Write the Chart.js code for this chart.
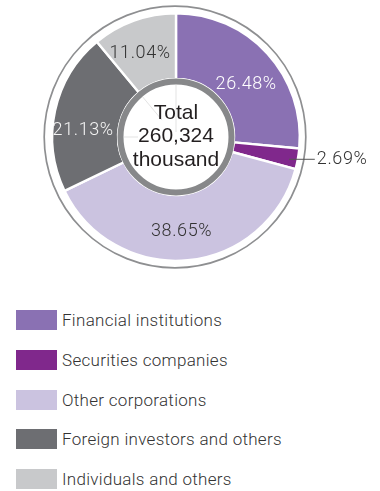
<!DOCTYPE html>
<html>
<head>
<meta charset="utf-8">
<script src="https://cdn.jsdelivr.net/npm/chart.js@4"></script>
<style>
  html, body { margin: 0; padding: 0; background: #fff; }
  #wrap { position: relative; width: 380px; height: 491px; overflow: hidden; }
  #pie { position: absolute; left: 0; top: 0; }
  #legend { position: absolute; left: 16px; top: 310px; margin: 0; padding: 0; list-style: none; }
  #legend li { display: flex; align-items: center; height: 20px; margin-bottom: 19.75px;
    font: 300 17px Roboto, "Liberation Sans", sans-serif; letter-spacing: 0.3px;
    color: #333333; white-space: nowrap; }
  #legend .sw { width: 41px; height: 20px; margin-right: 5px; flex: none; }
</style>
</head>
<body>
<div id="wrap">
  <canvas id="pie" width="380" height="280"></canvas>
  <ul id="legend"></ul>
</div>
<script>
// Shareholder composition
const categories = [
  'Financial institutions',
  'Securities companies',
  'Other corporations',
  'Foreign investors and others',
  'Individuals and others'
];
const shares = [26.48, 2.69, 38.65, 21.13, 11.04];
const totalLines = ['Total', '260,324', 'thousand'];

// Appearance
const sliceColors = ['#8a71b3', '#80288c', '#cbc3e0', '#6d6e72', '#c8c9cb'];
const labelColors = ['#ffffff', '#333333', '#333333', '#f4f4f4', '#333333'];
const labelNudge = [[3, 9], [0, 0], [-3, 4], [-4, 13], [-5, 2]];
const labelFont = '300 18px Roboto, "Liberation Sans", sans-serif';
const centerFont = '400 21px "Liberation Sans", Arial, sans-serif';

const decor = {
  id: 'decor',
  afterDatasetsDraw(chart) {
    const meta = chart.getDatasetMeta(0);
    const ctx = chart.ctx;
    const first = meta.data[0].getProps(['x', 'y', 'outerRadius', 'innerRadius'], true);
    const cx = first.x, cy = first.y, R = first.outerRadius, r0 = first.innerRadius;
    ctx.save();

    // thin outer rim
    ctx.beginPath();
    ctx.arc(cx - 1, cy, R + 7, 0, Math.PI * 2);
    ctx.strokeStyle = '#8e8f91';
    ctx.lineWidth = 1.7;
    ctx.stroke();

    // white hub with grey ring
    ctx.beginPath();
    ctx.arc(cx, cy, r0 + 1, 0, Math.PI * 2);
    ctx.fillStyle = '#ffffff';
    ctx.fill();
    ctx.beginPath();
    ctx.arc(cx, cy, r0 - 2.5, 0, Math.PI * 2);
    ctx.strokeStyle = '#87888a';
    ctx.lineWidth = 6;
    ctx.stroke();

    // faint guide lines inside the hub, continuing the upper-left slice edges
    ctx.strokeStyle = '#dcdcdc';
    ctx.lineWidth = 0.8;
    const guides = [
      [meta.data[4].endAngle, r0 - 6, 5],
      [meta.data[4].startAngle, r0 - 6, 22],
      [Math.PI, r0 - 6, 38]
    ];
    guides.forEach(([a, ra, rb]) => {
      ctx.beginPath();
      ctx.moveTo(cx + ra * Math.cos(a), cy + ra * Math.sin(a));
      ctx.lineTo(cx + rb * Math.cos(a), cy + rb * Math.sin(a));
      ctx.stroke();
    });

    // centre text
    ctx.fillStyle = '#231f20';
    ctx.font = centerFont;
    ctx.textAlign = 'center';
    ctx.textBaseline = 'middle';
    totalLines.forEach((t, i) => ctx.fillText(t, cx, cy - 24 + i * 23.5));

    // percentage labels
    ctx.font = labelFont;
    if ('letterSpacing' in ctx) ctx.letterSpacing = '0.6px';
    meta.data.forEach((arc, i) => {
      const p = arc.getProps(['startAngle', 'endAngle'], true);
      const mid = (p.startAngle + p.endAngle) / 2;
      const text = shares[i].toFixed(2) + '%';
      const [nx, ny] = labelNudge[i];
      ctx.fillStyle = labelColors[i];
      if (shares[i] < 5) {
        const rs = R - 9;
        const sx = cx + rs * Math.cos(mid), sy = cy + rs * Math.sin(mid) + 2;
        const ex = cx + R + 15;
        ctx.beginPath();
        ctx.moveTo(sx, sy);
        ctx.lineTo(ex, sy);
        ctx.strokeStyle = '#555555';
        ctx.lineWidth = 1;
        ctx.stroke();
        ctx.textAlign = 'left';
        ctx.fillText(text, ex + 2 + nx, sy + ny);
      } else {
        const rm = (R + r0) / 2;
        ctx.textAlign = 'center';
        ctx.fillText(text, cx + rm * Math.cos(mid) + nx, cy + rm * Math.sin(mid) + ny);
      }
    });
    ctx.restore();
  }
};

const chart = new Chart(document.getElementById('pie'), {
  type: 'doughnut',
  data: {
    labels: categories,
    datasets: [{
      data: shares,
      backgroundColor: sliceColors,
      borderColor: '#ffffff',
      borderWidth: 2.4,
      hoverOffset: 0
    }]
  },
  options: {
    responsive: false,
    animation: false,
    cutout: 58,
    layout: { padding: { left: 51, right: 79, top: 12, bottom: 18 } },
    plugins: { legend: { display: false }, tooltip: { enabled: false } }
  },
  plugins: [decor]
});

// legend list below the chart
const legend = document.getElementById('legend');
categories.forEach((name, i) => {
  const li = document.createElement('li');
  const sw = document.createElement('span');
  sw.className = 'sw';
  sw.style.background = sliceColors[i];
  li.appendChild(sw);
  li.appendChild(document.createTextNode(name));
  legend.appendChild(li);
});
</script>
</body>
</html>
